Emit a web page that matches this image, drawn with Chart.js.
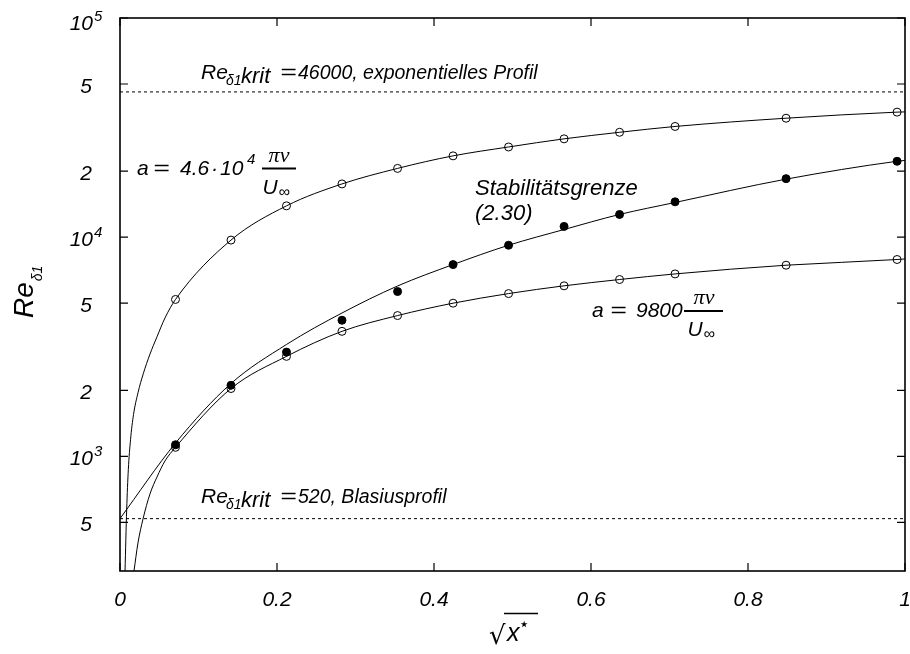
<!DOCTYPE html>
<html>
<head>
<meta charset="utf-8">
<script src="https://cdn.jsdelivr.net/npm/chart.js@4.4.1/dist/chart.umd.min.js"></script>
<style>
  html, body { margin: 0; padding: 0; background: #fff; }
  #wrap { width: 910px; height: 654px; }
</style>
</head>
<body>
<div id="wrap"><canvas id="stab" width="910" height="654"></canvas></div>
<script>
// measured points, x axis is sqrt(x*)
const sqrtX = [0.0707, 0.1414, 0.2121, 0.2828, 0.3536, 0.4243, 0.4950, 0.5657, 0.6364, 0.7071, 0.8485, 0.9899];
const reA46000 = [5200, 9700, 13900, 17500, 20600, 23500, 25800, 28100, 30100, 32000, 34900, 37200];
const reStab = [1130, 2110, 2990, 4180, 5650, 7500, 9190, 11200, 12700, 14500, 18500, 22200];
const reA9800 = [1100, 2040, 2860, 3720, 4390, 5000, 5530, 6000, 6410, 6800, 7450, 7910];

// drawn curves
const curveTopX = [0.0064, 0.0085, 0.0106, 0.0134, 0.0172, 0.0229, 0.0296, 0.0382, 0.0471, 0.0573, 0.0707, 0.1414, 0.2121, 0.2828, 0.3536, 0.4243, 0.4950, 0.5657, 0.6364, 0.7071, 0.8485, 0.9899, 1];
const curveTopRe = [300, 570, 870, 1190, 1550, 1950, 2380, 2930, 3510, 4280, 5200, 9700, 13900, 17500, 20600, 23500, 25800, 28100, 30100, 32000, 34900, 37200, 37300];
const curveStabX = [0, 0.0707, 0.1414, 0.2121, 0.2828, 0.3536, 0.4243, 0.4950, 0.5657, 0.6364, 0.7071, 0.8485, 0.9899, 1];
const curveStabRe = [520, 1150, 2150, 3240, 4510, 5990, 7500, 9190, 10840, 12700, 14400, 18400, 22200, 22400];
const curveBotX = [0.0178, 0.0229, 0.0293, 0.0382, 0.0471, 0.0573, 0.0707, 0.1414, 0.2121, 0.2828, 0.3536, 0.4243, 0.4950, 0.5657, 0.6364, 0.7071, 0.8485, 0.9899, 1];
const curveBotRe = [300, 403, 518, 674, 805, 953, 1100, 2040, 2860, 3720, 4390, 5000, 5530, 6000, 6410, 6800, 7450, 7910, 7960];

// critical Reynolds numbers
const kritX = [0, 1];
const reKritExp = 46000;
const reKritBlasius = 520;

const xTicks = [0, 0.2, 0.4, 0.6, 0.8, 1];
const xTickLabels = ['0', '0.2', '0.4', '0.6', '0.8', '1'];
const yTicks = [500, 1000, 2000, 5000, 10000, 20000, 50000, 100000];
const yTickBase = ['5', '10', '2', '5', '10', '2', '5', '10'];
const yTickExp = ['', '3', '', '', '4', '', '', '5'];

let pts = (xs, ys) => xs.map((x, i) => ({x: x, y: ys[i]}));

const SANS = '"Liberation Sans", Arial, sans-serif';
const SERIF = '"Liberation Serif", "DejaVu Serif", serif';

function put(ctx, s, x, y, size, face, align){
  ctx.font = 'italic ' + size + 'px ' + (face || SANS);
  ctx.textAlign = align || 'left';
  ctx.textBaseline = 'alphabetic';
  ctx.fillText(s, x, y);
  return ctx.measureText(s).width;
}

// TeX-like equals sign, a bit wider than the text one
function eq(ctx, x, y){
  ctx.save();
  ctx.translate(x, y);
  ctx.scale(1.35, 1);
  put(ctx, '=', 0, 0, 21);
  ctx.restore();
}

// Re_{δ1 krit} label
function kritLabel(ctx, x, y, rest){
  put(ctx, 'Re', x, y, 21);
  put(ctx, 'δ1', x + 25, y + 6, 14);
  put(ctx, 'krit', x + 40, y + 4, 22);
  eq(ctx, x + 79, y);
  put(ctx, rest, x + 97, y, 19.5);
}

// πν / U∞ fraction
function fraction(ctx, cx, barY, barL, barR){
  ctx.lineWidth = 1.8;
  ctx.beginPath();
  ctx.moveTo(barL, barY); ctx.lineTo(barR, barY);
  ctx.stroke();
  put(ctx, 'πν', cx, barY - 7, 22, SERIF, 'center');
  const wu = put(ctx, 'U', cx - 9, barY + 25, 21, SANS, 'center');
  put(ctx, '∞', cx - 9 + wu / 2 + 1, barY + 28, 16, SANS, 'left');
}

const decor = {
  id: 'decor',
  afterDatasetsDraw(chart){
    const {ctx, chartArea: a, scales: {x, y}} = chart;
    ctx.save();
    ctx.strokeStyle = '#000';
    ctx.fillStyle = '#000';

    // frame
    ctx.lineWidth = 1.6;
    ctx.strokeRect(a.left, a.top, a.right - a.left, a.bottom - a.top);

    // inward ticks on all sides
    ctx.lineWidth = 1.2;
    ctx.beginPath();
    yTicks.forEach(v => {
      const py = y.getPixelForValue(v);
      ctx.moveTo(a.left, py); ctx.lineTo(a.left + 8, py);
      ctx.moveTo(a.right, py); ctx.lineTo(a.right - 8, py);
    });
    xTicks.forEach(v => {
      const px = x.getPixelForValue(v);
      ctx.moveTo(px, a.bottom); ctx.lineTo(px, a.bottom - 8);
      ctx.moveTo(px, a.top); ctx.lineTo(px, a.top + 8);
    });
    ctx.stroke();

    // x tick labels
    xTicks.forEach((v, i) => {
      put(ctx, xTickLabels[i], x.getPixelForValue(v), a.bottom + 35, 21, SANS, 'center');
    });

    // y tick labels, powers of ten with superscript
    yTicks.forEach((v, i) => {
      const py = y.getPixelForValue(v);
      const base = Math.max(py + 9, 30);
      ctx.font = 'italic 21px ' + SANS;
      const wb = ctx.measureText(yTickBase[i]).width;
      ctx.font = 'italic 15px ' + SANS;
      const we = yTickExp[i] ? ctx.measureText(yTickExp[i]).width + 1 : 0;
      const x0 = 86 - (wb + we) / 2;
      put(ctx, yTickBase[i], x0, base, 21);
      if (yTickExp[i]) put(ctx, yTickExp[i], x0 + wb + 1, base - 9, 15);
    });

    // axis titles
    ctx.save();
    ctx.translate(33, 318);
    ctx.rotate(-Math.PI / 2);
    const wr = put(ctx, 'Re', 0, 0, 28);
    put(ctx, 'δ1', wr + 1, 9, 14);
    ctx.restore();

    ctx.font = '26px "DejaVu Sans", sans-serif';
    ctx.textAlign = 'left';
    ctx.fillText('√', 489, 644);
    const wx = put(ctx, 'x', 507, 641, 25);
    put(ctx, '⋆', 506 + wx, 630, 18, '"DejaVu Sans", sans-serif');
    ctx.lineWidth = 1.3;
    ctx.beginPath();
    ctx.moveTo(504, 613.5); ctx.lineTo(538, 613.5);
    ctx.stroke();

    // annotations
    kritLabel(ctx, 201, 79, '46000, exponentielles Profil');
    kritLabel(ctx, 201, 503, '520, Blasiusprofil');

    put(ctx, 'Stabilitätsgrenze', 475, 195, 22);
    put(ctx, '(2.30)', 475, 220, 22);

    put(ctx, 'a', 137, 175, 21);
    eq(ctx, 153, 175);
    put(ctx, '4.6', 180, 175, 21);
    put(ctx, '·', 211, 175, 21);
    put(ctx, '10', 220, 175, 21);
    put(ctx, '4', 247, 164, 15);
    fraction(ctx, 279, 168.5, 262, 296);

    put(ctx, 'a', 592, 317, 21);
    eq(ctx, 610, 317);
    put(ctx, '9800', 636, 317, 21);
    fraction(ctx, 704, 311, 684, 723);

    ctx.restore();
  }
};

const line = (xs, ys) => ({
  data: pts(xs, ys),
  showLine: true,
  borderColor: '#000',
  borderWidth: 1,
  pointRadius: 0,
  cubicInterpolationMode: 'monotone'
});

const dashed = (v) => ({
  data: pts(kritX, kritX.map(() => v)),
  showLine: true,
  borderColor: '#000',
  borderWidth: 1,
  borderDash: [3, 3],
  pointRadius: 0
});

const marks = (ys, filled) => ({
  data: pts(sqrtX, ys),
  pointStyle: 'circle',
  pointRadius: 4,
  pointBorderWidth: 1,
  pointBorderColor: '#000',
  pointBackgroundColor: filled ? '#000' : 'rgba(0,0,0,0)'
});

new Chart(document.getElementById('stab'), {
  type: 'scatter',
  data: {
    datasets: [
      marks(reA46000, false),
      marks(reStab, true),
      marks(reA9800, false),
      line(curveTopX, curveTopRe),
      line(curveStabX, curveStabRe),
      line(curveBotX, curveBotRe),
      dashed(reKritExp),
      dashed(reKritBlasius)
    ]
  },
  options: {
    responsive: false,
    animation: false,
    events: [],
    layout: { padding: { left: 120, right: 4, top: 18, bottom: 83 } },
    plugins: { legend: { display: false }, tooltip: { enabled: false } },
    scales: {
      x: { type: 'linear', min: 0, max: 1, display: false },
      y: { type: 'logarithmic', min: 300, max: 100000, display: false }
    }
  },
  plugins: [decor]
});
</script>
</body>
</html>
